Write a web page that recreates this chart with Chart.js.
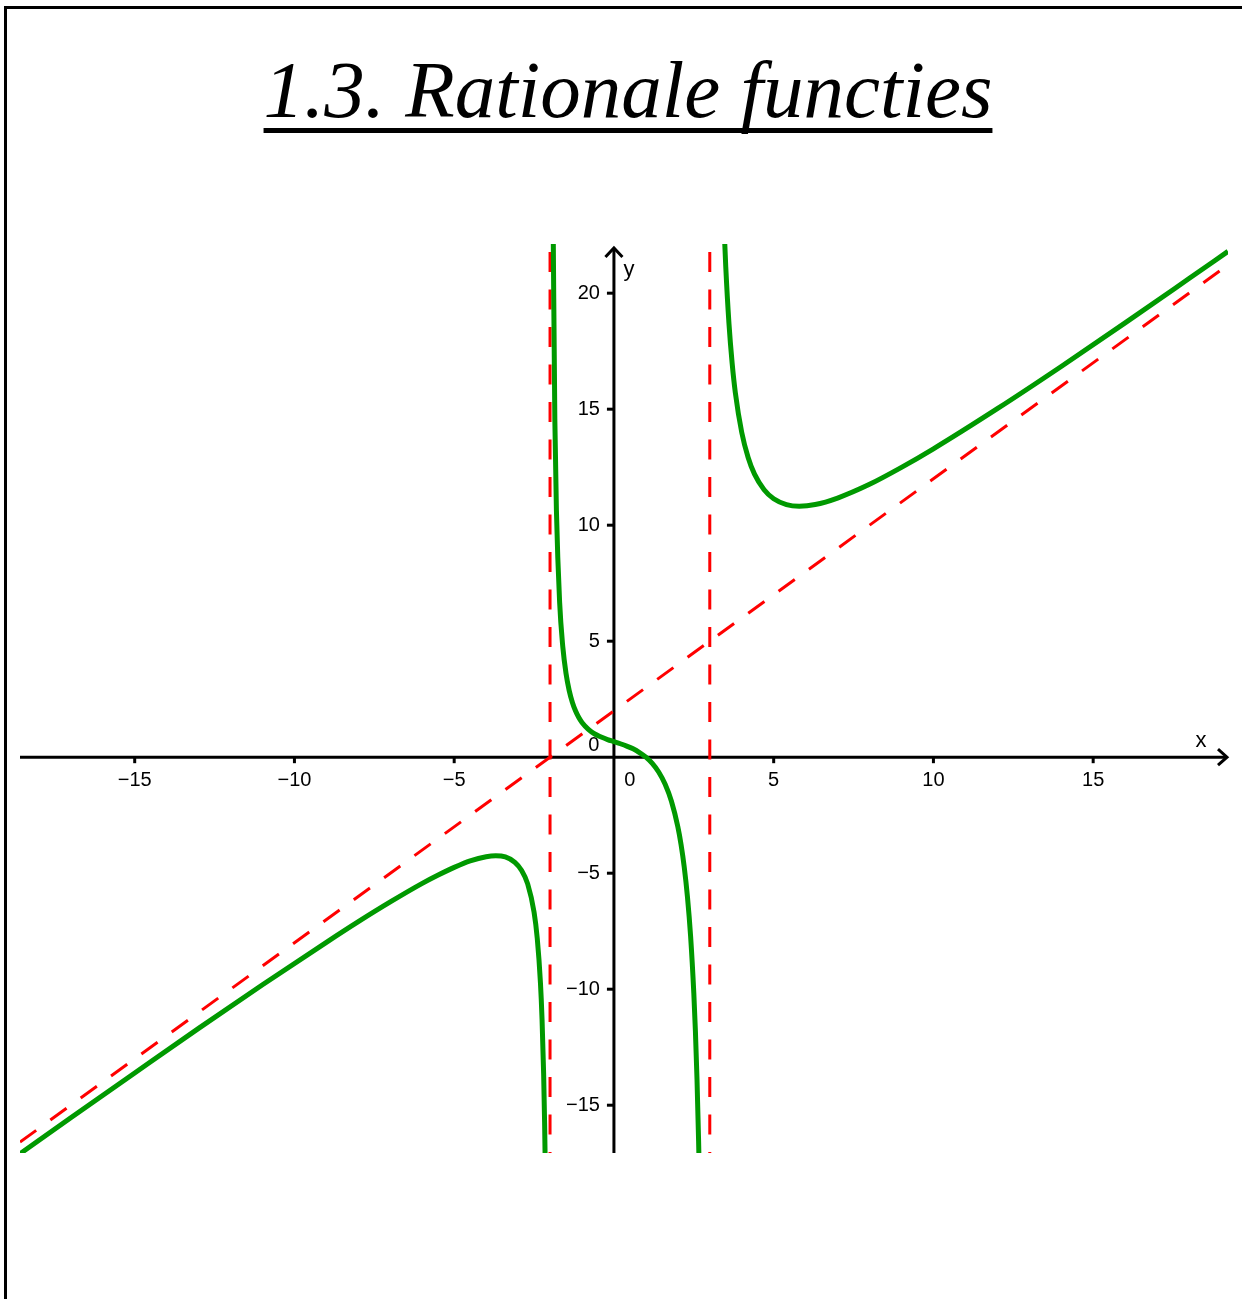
<!DOCTYPE html>
<html>
<head>
<meta charset="utf-8">
<script src="https://cdn.jsdelivr.net/npm/chart.js@4"></script>
<style>
  html, body { margin: 0; padding: 0; background: #fff; }
  #page { position: relative; width: 1242px; height: 1299px; overflow: hidden; }
  #frame { position: absolute; left: 4px; top: 6px; right: -10px; bottom: -10px;
           border-left: 3px solid #000; border-top: 3px solid #000; }
  #title { position: absolute; left: 0; top: 40px; width: 1242px; text-align: center;
           padding-left: 14px; box-sizing: border-box;
           font-family: "Liberation Serif", serif; font-style: italic; font-size: 81px;
           line-height: 100px; color: #000; }
  #title span { text-decoration: underline; text-decoration-thickness: 5px;
                text-underline-offset: 11px; text-decoration-skip-ink: none; }
  #plot { position: absolute; left: 0; top: 0; }
</style>
</head>
<body>
<div id="page">
  <div id="frame"></div>
  <canvas id="plot" width="1242" height="1299"></canvas>
  <div id="title"><span>1.3. Rationale functies</span></div>
</div>
<script>
// Visible window of the coordinate system
const xRange = [-18.59, 19.22];
const yRange = [-17.06, 22.12];

// Axis ticks and their labels
const xTicks = [-15, -10, -5, 5, 10, 15];
const xTickLabels = ['\u221215', '\u221210', '\u22125', '5', '10', '15'];
const yTicks = [-15, -10, -5, 5, 10, 15, 20];
const yTickLabels = ['\u221215', '\u221210', '\u22125', '5', '10', '15', '20'];

// Graph of the function: left branch (x < -2)
const leftX = [-18.59, -17, -15, -13, -11, -9, -8, -7, -6, -5.5, -5, -4.5, -4, -3.7, -3.4, -3.1, -2.9, -2.7, -2.5, -2.4, -2.3, -2.25, -2.2, -2.17, -2.15];
const leftY = [-17.09, -15.54, -13.61, -11.69, -9.81, -7.98, -7.09, -6.24, -5.44, -5.08, -4.75, -4.47, -4.29, -4.25, -4.30, -4.53, -4.86, -5.46, -6.68, -7.81, -9.73, -11.30, -13.66, -15.76, -17.63];

// Middle branch (-2 < x < 3)
const midX = [-1.9, -1.85, -1.8, -1.7, -1.6, -1.5, -1.4, -1.3, -1.2, -1.1, -1.0, -0.8, -0.6, -0.4, -0.2, 0, 0.2, 0.4, 0.6, 0.8, 1.0, 1.2, 1.4, 1.6, 1.8, 2.0, 2.1, 2.2, 2.3, 2.4, 2.5, 2.55, 2.6, 2.65, 2.67];
const midY = [22.55, 14.58, 10.62, 6.68, 4.75, 3.61, 2.87, 2.36, 1.99, 1.71, 1.5, 1.2, 1.0, 0.87, 0.76, 0.67, 0.58, 0.48, 0.36, 0.2, 0, -0.27, -0.64, -1.16, -1.9, -3.0, -3.76, -4.73, -6.0, -7.72, -10.17, -11.81, -13.88, -16.55, -17.85];

// Right branch (x > 3)
const rightX = [3.45, 3.5, 3.6, 3.7, 3.8, 4.0, 4.2, 4.4, 4.7, 5.0, 5.4, 5.8, 6.3, 7, 8, 9, 10, 12, 14, 16, 18, 19.22];
const rightY = [22.78, 21.14, 18.7, 16.98, 15.71, 14.0, 12.92, 12.2, 11.53, 11.14, 10.89, 10.82, 10.89, 11.17, 11.76, 12.49, 13.29, 15.02, 16.84, 18.72, 20.63, 21.8];

// Asymptotes: oblique y = x + 2, vertical x = -2 and x = 3
const obliqueX = [-18.59, 19.22];
const obliqueY = [-16.59, 21.22];
const vert1X = [-2, -2];
const vert2X = [3, 3];
const vertY = [22.12, -17.06];

const pts = (xs, ys) => xs.map((x, i) => ({ x: x, y: ys[i] }));

const GREEN = '#009900';
const RED = '#ff0000';

const curve = (xs, ys) => ({
  data: pts(xs, ys), showLine: true, borderColor: GREEN, borderWidth: 5,
  pointRadius: 0, cubicInterpolationMode: 'monotone', borderCapStyle: 'butt', fill: false
});
const dashed = (xs, ys, offset) => ({
  data: pts(xs, ys), showLine: true, borderColor: RED, borderWidth: 3,
  borderDash: [20, 17.5], borderDashOffset: offset, pointRadius: 0, tension: 0, fill: false
});

// Coordinate axes with arrows, ticks and labels, drawn beneath the graphs
const axesPlugin = {
  id: 'axes',
  beforeDatasetsDraw(chart) {
    const ctx = chart.ctx;
    const xs = chart.scales.x, ys = chart.scales.y;
    const area = chart.chartArea;
    const ox = xs.getPixelForValue(0), oy = ys.getPixelForValue(0);
    ctx.save();
    ctx.strokeStyle = '#000';
    ctx.fillStyle = '#000';
    ctx.lineWidth = 3;
    ctx.lineCap = 'butt';
    // x axis
    ctx.beginPath();
    ctx.moveTo(area.left, oy);
    ctx.lineTo(area.right - 1, oy);
    ctx.stroke();
    // y axis
    ctx.beginPath();
    ctx.moveTo(ox, area.bottom);
    ctx.lineTo(ox, area.top + 4);
    ctx.stroke();
    // arrow heads
    ctx.lineJoin = 'miter';
    ctx.beginPath();
    ctx.moveTo(area.right - 10, oy - 8);
    ctx.lineTo(area.right - 1, oy);
    ctx.lineTo(area.right - 10, oy + 8);
    ctx.stroke();
    ctx.beginPath();
    ctx.moveTo(ox - 8.5, area.top + 13);
    ctx.lineTo(ox, area.top + 4);
    ctx.lineTo(ox + 8.5, area.top + 13);
    ctx.stroke();
    // tick marks
    ctx.lineWidth = 3;
    xTicks.forEach(v => {
      const px = xs.getPixelForValue(v);
      ctx.beginPath(); ctx.moveTo(px, oy); ctx.lineTo(px, oy + 6); ctx.stroke();
    });
    yTicks.forEach(v => {
      const py = ys.getPixelForValue(v);
      ctx.beginPath(); ctx.moveTo(ox, py); ctx.lineTo(ox - 7, py); ctx.stroke();
    });
    // tick labels
    ctx.font = '20px "Liberation Sans", Arial, sans-serif';
    ctx.textAlign = 'center';
    ctx.textBaseline = 'middle';
    xTicks.forEach((v, i) => ctx.fillText(xTickLabels[i], xs.getPixelForValue(v), oy + 23));
    ctx.textAlign = 'right';
    yTicks.forEach((v, i) => ctx.fillText(yTickLabels[i], ox - 14, ys.getPixelForValue(v)));
    // origin labels
    ctx.textAlign = 'center';
    ctx.fillText('0', ox - 20, oy - 12);
    ctx.fillText('0', ox + 16, oy + 23);
    // axis names
    ctx.font = '22px "Liberation Sans", Arial, sans-serif';
    ctx.fillText('x', area.right - 27, oy - 16);
    ctx.fillText('y', ox + 15, area.top + 26);
    ctx.restore();
  }
};

new Chart(document.getElementById('plot'), {
  type: 'scatter',
  data: {
    datasets: [
      curve(leftX, leftY),
      curve(midX, midY),
      curve(rightX, rightY),
      dashed(obliqueX, obliqueY, 0),
      dashed(vert1X, vertY, 29.5),
      dashed(vert2X, vertY, 29.5)
    ]
  },
  options: {
    responsive: false,
    animation: false,
    devicePixelRatio: 1,
    layout: { padding: { left: 20, right: 14, top: 244, bottom: 146 } },
    scales: {
      x: { type: 'linear', min: xRange[0], max: xRange[1], display: false },
      y: { type: 'linear', min: yRange[0], max: yRange[1], display: false }
    },
    plugins: { legend: { display: false }, tooltip: { enabled: false }, title: { display: false } }
  },
  plugins: [axesPlugin]
});
</script>
</body>
</html>
